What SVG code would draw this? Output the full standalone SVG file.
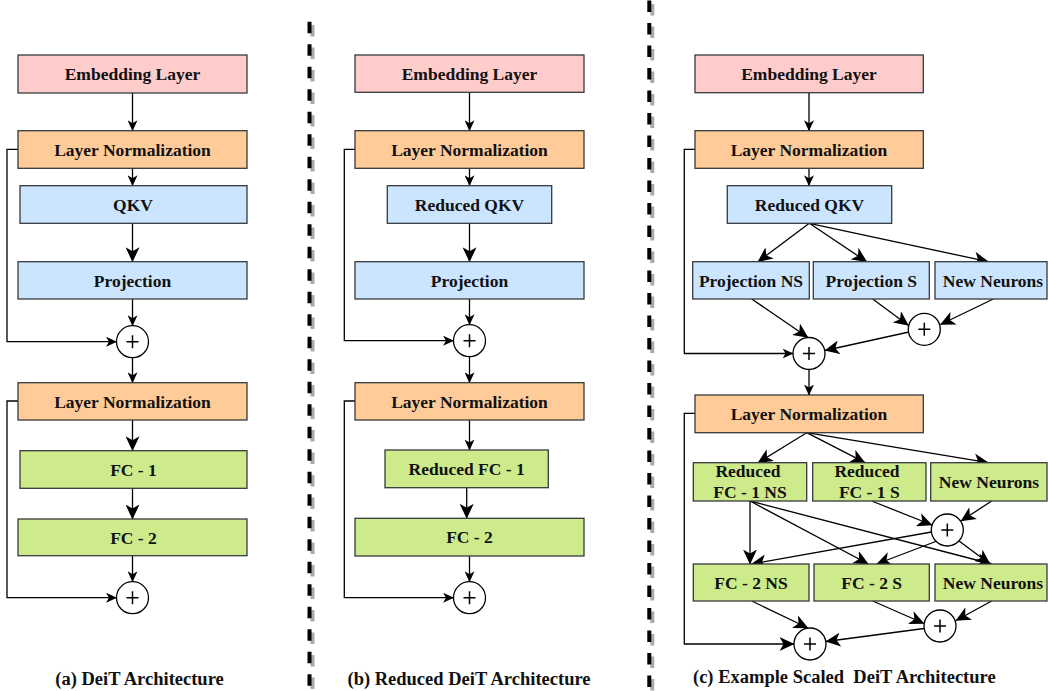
<svg xmlns="http://www.w3.org/2000/svg" width="1048" height="691" viewBox="0 0 1048 691">
<style>
.box{stroke:#36393d;stroke-width:1.3}
.pink{fill:#FFCCCC}.orange{fill:#FFCC99}.blue{fill:#CCE5FF}.green{fill:#CDEB8B}
.lbl{font-family:"Liberation Serif","Times New Roman",serif;font-weight:bold;font-size:17.5px;fill:#111;text-anchor:middle}
.cap{font-family:"Liberation Serif","Times New Roman",serif;font-weight:bold;font-size:18.5px;fill:#111;white-space:pre}
.ln{fill:none;stroke:#000;stroke-width:1.3}
.s{marker-end:url(#as)}.l{marker-end:url(#al)}
.sum circle{fill:#fff;stroke:#000;stroke-width:1.3}
.sum path{stroke:#000;stroke-width:1.5;fill:none}
.dash{stroke:#000;stroke-width:4;stroke-dasharray:11.5 11}
.dashsh{stroke:#aaa;stroke-width:4;stroke-dasharray:11.5 11}
</style>
<defs>
<marker id="as" viewBox="0 0 11 10" markerWidth="11" markerHeight="10" refX="10.5" refY="5" orient="auto" markerUnits="userSpaceOnUse"><path d="M0,0 L11,5 L0,10 L3,5 Z" fill="#000"/></marker>
<marker id="al" viewBox="0 0 15 14" markerWidth="15" markerHeight="14" refX="14.5" refY="7" orient="auto" markerUnits="userSpaceOnUse"><path d="M0,0 L15,7 L0,14 L4,7 Z" fill="#000"/></marker>
</defs>
<rect width="1048" height="691" fill="#fff"/>

<g id="separators">
<line class="dashsh" x1="312.5" y1="25" x2="312.5" y2="695"/>
<line class="dash" x1="309.5" y1="21.7" x2="309.5" y2="691"/>
<line class="dashsh" x1="652.3" y1="4" x2="652.3" y2="695"/>
<line class="dash" x1="649.3" y1="0.5" x2="649.3" y2="691"/>
</g>

<g id="connectors">
<!-- (a) -->
<line class="ln s" x1="132.5" y1="92.7" x2="132.5" y2="130.7"/>
<line class="ln s" x1="132.5" y1="168.3" x2="132.5" y2="185.7"/>
<line class="ln l" x1="132.5" y1="223.3" x2="132.5" y2="261.7"/>
<line class="ln s" x1="132.5" y1="299" x2="132.5" y2="325.7"/>
<polyline class="ln s" points="18,149.3 7,149.3 7,341.7 116.5,341.7"/>
<line class="ln s" x1="132.5" y1="357.7" x2="132.5" y2="382.7"/>
<line class="ln l" x1="132.5" y1="420" x2="132.5" y2="450.7"/>
<line class="ln l" x1="132.5" y1="488.3" x2="132.5" y2="519"/>
<line class="ln s" x1="132.5" y1="555.7" x2="132.5" y2="581.7"/>
<polyline class="ln s" points="18,401 7,401 7,597.7 116.5,597.7"/>
<!-- (b) -->
<line class="ln s" x1="469.5" y1="92.3" x2="469.5" y2="130.7"/>
<line class="ln s" x1="469.5" y1="168.3" x2="469.5" y2="185.7"/>
<line class="ln l" x1="469.5" y1="223.3" x2="469.5" y2="261.7"/>
<line class="ln s" x1="469.5" y1="299" x2="469.5" y2="324.7"/>
<polyline class="ln s" points="355,149.3 344.3,149.3 344.3,340.7 453.5,340.7"/>
<line class="ln s" x1="469.5" y1="356.7" x2="469.5" y2="382.7"/>
<line class="ln s" x1="469.5" y1="420" x2="469.5" y2="450"/>
<line class="ln l" x1="466.7" y1="487.7" x2="466.7" y2="518.3"/>
<line class="ln s" x1="469.5" y1="556" x2="469.5" y2="581.7"/>
<polyline class="ln s" points="355,401 344.3,401 344.3,597.7 453.5,597.7"/>
<!-- (c) top -->
<line class="ln s" x1="809" y1="92.7" x2="809" y2="130.7"/>
<line class="ln s" x1="809" y1="168.3" x2="809" y2="185.7"/>
<line class="ln l" x1="809.3" y1="223.3" x2="758" y2="261.7"/>
<line class="ln l" x1="809.3" y1="223.3" x2="866.7" y2="261.7"/>
<line class="ln l" x1="809.3" y1="223.3" x2="988.3" y2="261.7"/>
<line class="ln l" x1="751.7" y1="299" x2="808" y2="337.5"/>
<line class="ln l" x1="872.7" y1="299" x2="908.5" y2="325.5"/>
<line class="ln l" x1="993.3" y1="299" x2="940.5" y2="324.5"/>
<line class="ln l" x1="909" y1="332" x2="825" y2="350.5"/>
<polyline class="ln s" points="695,149.3 684.3,149.3 684.3,353.5 793,353.5"/>
<line class="ln s" x1="809" y1="369.5" x2="809" y2="395"/>
<!-- (c) bottom -->
<line class="ln l" x1="806.7" y1="432.7" x2="758" y2="462.7"/>
<line class="ln l" x1="806.7" y1="432.7" x2="865" y2="462.7"/>
<line class="ln l" x1="806.7" y1="432.7" x2="988.3" y2="462.7"/>
<line class="ln l" x1="750" y1="501" x2="750" y2="564"/>
<line class="ln l" x1="750" y1="501" x2="868.3" y2="564"/>
<line class="ln l" x1="750" y1="501" x2="991.7" y2="564"/>
<line class="ln l" x1="871.7" y1="501" x2="932" y2="525"/>
<line class="ln l" x1="991.7" y1="501" x2="961" y2="521"/>
<line class="ln l" x1="931.5" y1="532" x2="751.7" y2="564"/>
<line class="ln l" x1="937" y1="541" x2="876.7" y2="564"/>
<line class="ln l" x1="959" y1="541" x2="990" y2="564"/>
<line class="ln l" x1="751.7" y1="601" x2="808" y2="628"/>
<line class="ln l" x1="872.7" y1="601" x2="924" y2="623.5"/>
<line class="ln l" x1="991.7" y1="601" x2="956" y2="620.5"/>
<line class="ln l" x1="924" y1="628.5" x2="826" y2="641.5"/>
<polyline class="ln l" points="695,413.3 684.3,413.3 684.3,644 794,644"/>
</g>

<!-- Panel (a) -->
<g id="a-embed"><rect class="box pink" x="18" y="55" width="229" height="38"/><text class="lbl" x="132.5" y="80">Embedding Layer</text></g>
<g id="a-ln1"><rect class="box orange" x="18" y="130.7" width="229" height="37.6"/><text class="lbl" x="132.5" y="155.8">Layer Normalization</text></g>
<g id="a-qkv"><rect class="box blue" x="20" y="185.7" width="227" height="37.6"/><text class="lbl" x="133" y="210.8">QKV</text></g>
<g id="a-proj"><rect class="box blue" x="18" y="261.7" width="229" height="37.3"/><text class="lbl" x="132.5" y="286.6">Projection</text></g>
<g id="a-sum1" class="sum"><circle cx="132.5" cy="341.7" r="16"/><path d="M126.5,341.7 H138.5 M132.5,335.2 V348.2"/></g>
<g id="a-ln2"><rect class="box orange" x="18" y="382.7" width="229" height="37.3"/><text class="lbl" x="132.5" y="407.6">Layer Normalization</text></g>
<g id="a-fc1"><rect class="box green" x="20" y="450.7" width="227" height="37.6"/><text class="lbl" x="133.5" y="475.8">FC - 1</text></g>
<g id="a-fc2"><rect class="box green" x="18" y="519" width="229" height="36.7"/><text class="lbl" x="133.5" y="543.6">FC - 2</text></g>
<g id="a-sum2" class="sum"><circle cx="132.5" cy="597.7" r="16"/><path d="M126.5,597.7 H138.5 M132.5,591.2 V604.2"/></g>
<g id="a-caption"><text class="cap" x="139.5" y="685" text-anchor="middle">(a) DeiT Architecture</text></g>

<!-- Panel (b) -->
<g id="b-embed"><rect class="box pink" x="355" y="55" width="229" height="37.3"/><text class="lbl" x="469.5" y="79.8">Embedding Layer</text></g>
<g id="b-ln1"><rect class="box orange" x="355" y="130.7" width="229" height="37.6"/><text class="lbl" x="469.5" y="155.8">Layer Normalization</text></g>
<g id="b-qkv"><rect class="box blue" x="387.3" y="185.7" width="164.4" height="37.6"/><text class="lbl" x="469.5" y="210.8">Reduced QKV</text></g>
<g id="b-proj"><rect class="box blue" x="355" y="261.7" width="229" height="37.3"/><text class="lbl" x="469.5" y="286.6">Projection</text></g>
<g id="b-sum1" class="sum"><circle cx="469.5" cy="340.7" r="16"/><path d="M463.5,340.7 H475.5 M469.5,334.2 V347.2"/></g>
<g id="b-ln2"><rect class="box orange" x="355" y="382.7" width="229" height="37.3"/><text class="lbl" x="469.5" y="407.6">Layer Normalization</text></g>
<g id="b-fc1"><rect class="box green" x="385" y="450" width="163.3" height="37.7"/><text class="lbl" x="466.7" y="475.1">Reduced FC - 1</text></g>
<g id="b-fc2"><rect class="box green" x="355" y="518.3" width="229" height="37.7"/><text class="lbl" x="469.5" y="543.4">FC - 2</text></g>
<g id="b-sum2" class="sum"><circle cx="469.5" cy="597.7" r="16"/><path d="M463.5,597.7 H475.5 M469.5,591.2 V604.2"/></g>
<g id="b-caption"><text class="cap" x="469" y="685" text-anchor="middle">(b) Reduced DeiT Architecture</text></g>

<!-- Panel (c) -->
<g id="c-embed"><rect class="box pink" x="695" y="55" width="228.3" height="37.7"/><text class="lbl" x="809" y="80">Embedding Layer</text></g>
<g id="c-ln1"><rect class="box orange" x="695" y="130.7" width="228.3" height="37.6"/><text class="lbl" x="809" y="155.8">Layer Normalization</text></g>
<g id="c-qkv"><rect class="box blue" x="727.3" y="185.7" width="164.4" height="37.6"/><text class="lbl" x="809.5" y="210.8">Reduced QKV</text></g>
<g id="c-projns"><rect class="box blue" x="692.7" y="261.7" width="116.6" height="37.3"/><text class="lbl" x="751" y="286.6">Projection NS</text></g>
<g id="c-projs"><rect class="box blue" x="813.3" y="261.7" width="116" height="37.3"/><text class="lbl" x="871.3" y="286.6">Projection S</text></g>
<g id="c-nn1"><rect class="box blue" x="935" y="261.7" width="112" height="37.3"/><text class="lbl" x="993" y="286.6">New Neurons</text></g>
<g id="c-sumA" class="sum"><circle cx="924.3" cy="329.3" r="16"/><path d="M918.3,329.3 H930.3 M924.3,322.8 V335.8"/></g>
<g id="c-sum1" class="sum"><circle cx="809" cy="353.5" r="16"/><path d="M803,353.5 H815 M809,347 V360"/></g>
<g id="c-ln2"><rect class="box orange" x="695" y="395" width="228.3" height="37.7"/><text class="lbl" x="809" y="420">Layer Normalization</text></g>
<g id="c-fc1ns"><rect class="box green" x="693.3" y="462.7" width="113.4" height="38.3"/><text class="lbl" x="748" y="476.7">Reduced</text><text class="lbl" x="750" y="498.3">FC - 1 NS</text></g>
<g id="c-fc1s"><rect class="box green" x="812.7" y="462.7" width="113.3" height="38.3"/><text class="lbl" x="867" y="476.7">Reduced</text><text class="lbl" x="869.3" y="498.3">FC - 1 S</text></g>
<g id="c-nn2"><rect class="box green" x="930.7" y="462.7" width="116.3" height="38.3"/><text class="lbl" x="989" y="487.9">New Neurons</text></g>
<g id="c-sumB" class="sum"><circle cx="947.3" cy="530" r="16"/><path d="M941.3,530 H953.3 M947.3,523.5 V536.5"/></g>
<g id="c-fc2ns"><rect class="box green" x="693.3" y="564" width="115.7" height="37"/><text class="lbl" x="751" y="588.6">FC - 2 NS</text></g>
<g id="c-fc2s"><rect class="box green" x="814" y="564" width="115.3" height="37"/><text class="lbl" x="871.7" y="588.6">FC - 2 S</text></g>
<g id="c-nn3"><rect class="box green" x="935" y="564" width="112" height="37"/><text class="lbl" x="993" y="588.6">New Neurons</text></g>
<g id="c-sumC" class="sum"><circle cx="940" cy="626" r="16"/><path d="M934,626 H946 M940,619.5 V632.5"/></g>
<g id="c-sum2" class="sum"><circle cx="810" cy="644" r="16"/><path d="M804,644 H816 M810,637.5 V650.5"/></g>
<g id="c-caption"><text class="cap" x="693" y="683">(c) Example Scaled  DeiT Architecture</text></g>
</svg>
